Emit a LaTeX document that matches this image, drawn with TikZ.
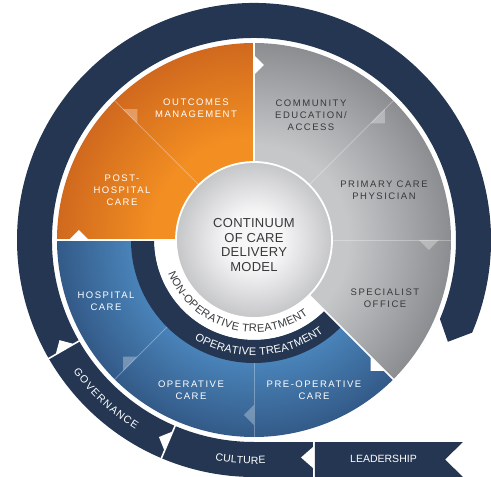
\documentclass[tikz,border=0pt]{standalone}
\usepackage{fontspec}
\setmainfont{Liberation Sans}
\newfontfamily\segfont[LetterSpace=16]{Liberation Sans}
\newfontfamily\hubfont[LetterSpace=2]{Liberation Sans}
\usetikzlibrary{decorations.text}
\definecolor{navy}{HTML}{243652}
\definecolor{orlight}{HTML}{F28E22}
\definecolor{ordark}{HTML}{D0691E}
\definecolor{grlight}{HTML}{C6C7C9}
\definecolor{grdark}{HTML}{8C8D90}
\definecolor{bllight}{HTML}{4D8AC1}
\definecolor{bldark}{HTML}{335A88}
\definecolor{hublight}{HTML}{F6F6F7}
\definecolor{hubdark}{HTML}{C5C6C8}
\definecolor{ink}{HTML}{38393B}
\pgfdeclareradialshading{orwheel}{\pgfpoint{0bp}{0bp}}{color(0bp)=(orlight); color(13bp)=(orlight); color(25bp)=(ordark); color(50bp)=(ordark)}
\pgfdeclareradialshading{grwheel}{\pgfpoint{0bp}{0bp}}{color(0bp)=(grlight); color(12bp)=(grlight); color(25bp)=(grdark); color(50bp)=(grdark)}
\pgfdeclareradialshading{blwheel}{\pgfpoint{0bp}{0bp}}{color(0bp)=(bllight); color(14bp)=(bllight); color(25bp)=(bldark); color(50bp)=(bldark)}
\pgfdeclareradialshading{hubball}{\pgfpoint{0bp}{0bp}}{color(0bp)=(hublight); color(9bp)=(hublight); color(25bp)=(hubdark); color(50bp)=(hubdark)}
\newcommand\seglook{\segfont\fontsize{9.5}{12}\selectfont}
\newcommand\hublook{\hubfont\fontsize{13}{14.5}\selectfont}
\newcommand\arclook{\fontsize{11}{13}\selectfont}
\newcommand\bandlook{\fontsize{10.5}{12}\selectfont}
\begin{document}
\begin{tikzpicture}[x=1pt, y=1pt,
    seglabel/.style={align=center, font=\seglook, text=white},
    greylabel/.style={seglabel, text=ink},
    gapline/.style={white, line width=1.6},
    thinsep/.style={white, opacity=.3, line width=.8},
    flowmark/.style={fill=white},
    softmark/.style={fill=white, opacity=.3},
    arctext/.style={decorate, decoration={text along path, text align=fit to path, text color=#1}}]
  \useasboundingbox (-254,-237) rectangle (237,240);
  \begin{scope}
    \clip (0,0) -- (90:197) arc[start angle=90, end angle=180, radius=197] -- cycle;
    \shade[shading=orwheel] (0,0) circle (197);
  \end{scope}
  \begin{scope}
    \clip (0,0) -- (-45:197) arc[start angle=-45, end angle=90, radius=197] -- cycle;
    \shade[shading=grwheel] (0,0) circle (197);
  \end{scope}
  \begin{scope}
    \clip (0,0) -- (180:197) arc[start angle=180, end angle=315, radius=197] -- cycle;
    \shade[shading=blwheel] (0,0) circle (197);
  \end{scope}
  \foreach \a in {135,45,0,-90,-135} {
    \draw[thinsep] (\a:78) -- (\a:197);
    \fill[softmark, rotate=\a] (165,0) -- (185,0) -- (175,-10) -- cycle;
  }
  \foreach \a in {90,180,-45} {
    \fill[flowmark, rotate=\a] (165,0) -- (185,0) -- (175,-10) -- cycle;
  }
  \fill[white] (180:78) -- (180:100) arc[start angle=180, end angle=315, radius=100] -- (315:78) -- cycle;
  \fill[navy] (180:100) -- (180:123) arc[start angle=180, end angle=315, radius=123] -- (315:100) arc[start angle=315, end angle=180, radius=100] -- cycle;
  \foreach \a in {90,180,-45} {
    \draw[gapline] (\a:78) -- (\a:198);
  }
  \shade[shading=hubball] (0,0) circle (78);
  \draw[white, line width=1.8] (0,0) circle (78);
  \path[arctext=ink, decoration={text={|\arclook|NON-OPERATIVE TREATMENT}}] (201:92) arc[start angle=201, end angle=306, radius=92];
  \path[arctext=white, decoration={text={|\arclook|OPERATIVE TREATMENT}}] (239:115.5) arc[start angle=239, end angle=307, radius=115.5];
  \fill[navy] (-23:237) arc[start angle=-23, end angle=210, radius=237] -- (210:202) arc[start angle=210, end angle=-23, radius=202] -- (-27.7:219) -- cycle;
  \fill[navy] (210:237) arc[start angle=210, end angle=247, radius=237] -- (247:202) arc[start angle=247, end angle=210, radius=202] -- cycle;
  \fill[navy] (247:237) arc[start angle=247, end angle=270, radius=237] -- (59,-237) -- (59,-202) -- (0,-202) arc[start angle=270, end angle=247, radius=202] -- cycle;
  \fill[navy] (61,-202) -- (209,-202) -- (191,-219.5) -- (209,-237) -- (61,-237) -- cycle;
  \foreach \a in {210,247} {
    \draw[gapline] (\a:200) -- (\a:239);
    \fill[flowmark, rotate=\a] (208,0) -- (229,0) -- (218.5,-10.5) -- cycle;
  }
  \fill[flowmark] (59,-207) -- (59,-228) -- (47,-217.5) -- cycle;
  \path[arctext=white, decoration={text={|\bandlook|GOVERNANCE}}] (216:223.5) arc[start angle=216, end angle=238, radius=223.5];
  \path[arctext=white, decoration={text={|\bandlook|CULTURE}}] (260:224) arc[start angle=260, end angle=273, radius=224];
  \node (leadership) at (129.5,-219) [text=white, font=\bandlook] {LEADERSHIP};
  \node (outcomes) at (-58,132) [seglabel] {OUTCOMES\\MANAGEMENT};
  \node (posthosp) at (-132,50) [seglabel] {POST-\\HOSPITAL\\CARE};
  \node (community) at (57,125) [greylabel] {COMMUNITY\\EDUCATION/\\ACCESS};
  \node (primary) at (130,50) [greylabel] {PRIMARY CARE\\PHYSICIAN};
  \node (specialist) at (131,-58) [greylabel] {SPECIALIST\\OFFICE};
  \node (preop) at (60,-150) [seglabel] {PRE-OPERATIVE\\CARE};
  \node (operative) at (-63,-150) [seglabel] {OPERATIVE\\CARE};
  \node (hospital) at (-148,-61) [seglabel] {HOSPITAL\\CARE};
  \node (hub) at (0,-5) [align=center, text=ink, font=\hublook] {CONTINUUM\\OF CARE\\DELIVERY\\MODEL};
\end{tikzpicture}
\end{document}
